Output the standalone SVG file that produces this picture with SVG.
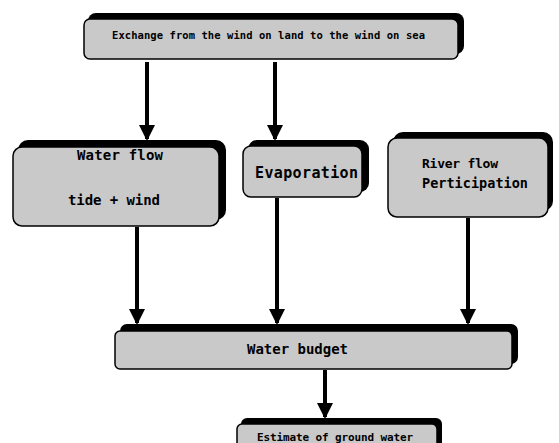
<svg xmlns="http://www.w3.org/2000/svg" width="559" height="443" viewBox="0 0 559 443">
<style>
.sh{fill:#000}
.fr{fill:#c9c9c9;stroke:#000;stroke-width:1.5}
.t{font-family:"DejaVu Sans Mono","Liberation Mono",monospace;font-weight:bold;fill:#000}
.c{stroke:#000;stroke-width:4;fill:none;marker-end:url(#ah)}
</style>
<defs>
<marker id="ah" markerWidth="4" markerHeight="4" refX="3.5" refY="2" orient="auto" markerUnits="strokeWidth" viewBox="0 0 4 4">
<path d="M0,0 L4,2 L0,4 z" fill="#000"/>
</marker>
</defs>
<rect width="559" height="443" fill="#fff"/>
<g id="connectors">
<line class="c" x1="147" y1="62" x2="147" y2="139"/>
<line class="c" x1="275" y1="62" x2="275" y2="139"/>
<line class="c" x1="137" y1="227" x2="137" y2="323"/>
<line class="c" x1="277" y1="198" x2="277" y2="323"/>
<line class="c" x1="468" y1="218" x2="468" y2="323"/>
<line class="c" x1="325" y1="370" x2="325" y2="417"/>
</g>
<g id="exchange">
<rect class="sh" x="88" y="13" width="376" height="41" rx="8"/>
<rect class="fr" x="84" y="19" width="374" height="40" rx="6"/>
<text class="t" x="112" y="39" font-size="10.5" textLength="313">Exchange from the wind on land to the wind on sea</text>
</g>
<g id="waterflow">
<rect class="sh" x="18" y="140" width="208" height="80" rx="10"/>
<rect class="fr" x="13" y="147" width="206" height="79" rx="9"/>
<text class="t" x="77" y="160" font-size="14" textLength="86">Water flow</text>
<text class="t" x="68" y="205" font-size="14" textLength="92">tide + wind</text>
</g>
<g id="evaporation">
<rect class="sh" x="248" y="140" width="121" height="52" rx="9"/>
<rect class="fr" x="243" y="146" width="119" height="51" rx="8"/>
<text class="t" x="255" y="178" font-size="15" textLength="103">Evaporation</text>
</g>
<g id="river">
<rect class="sh" x="393" y="132" width="160" height="79" rx="10"/>
<rect class="fr" x="388" y="138" width="160" height="79" rx="9"/>
<text class="t" x="422" y="168" font-size="13" textLength="76">River flow</text>
<text class="t" x="422" y="188" font-size="13.5" textLength="106">Perticipation</text>
</g>
<g id="waterbudget">
<rect class="sh" x="120" y="324" width="398" height="40" rx="7"/>
<rect class="fr" x="115" y="331" width="397" height="38" rx="5"/>
<text class="t" x="247" y="354" font-size="14" textLength="101">Water budget</text>
</g>
<g id="estimate">
<rect class="sh" x="241" y="418" width="201" height="30" rx="6"/>
<rect class="fr" x="237" y="424" width="200" height="30" rx="5"/>
<text class="t" x="257" y="441" font-size="11" textLength="156">Estimate of ground water</text>
</g>
</svg>
